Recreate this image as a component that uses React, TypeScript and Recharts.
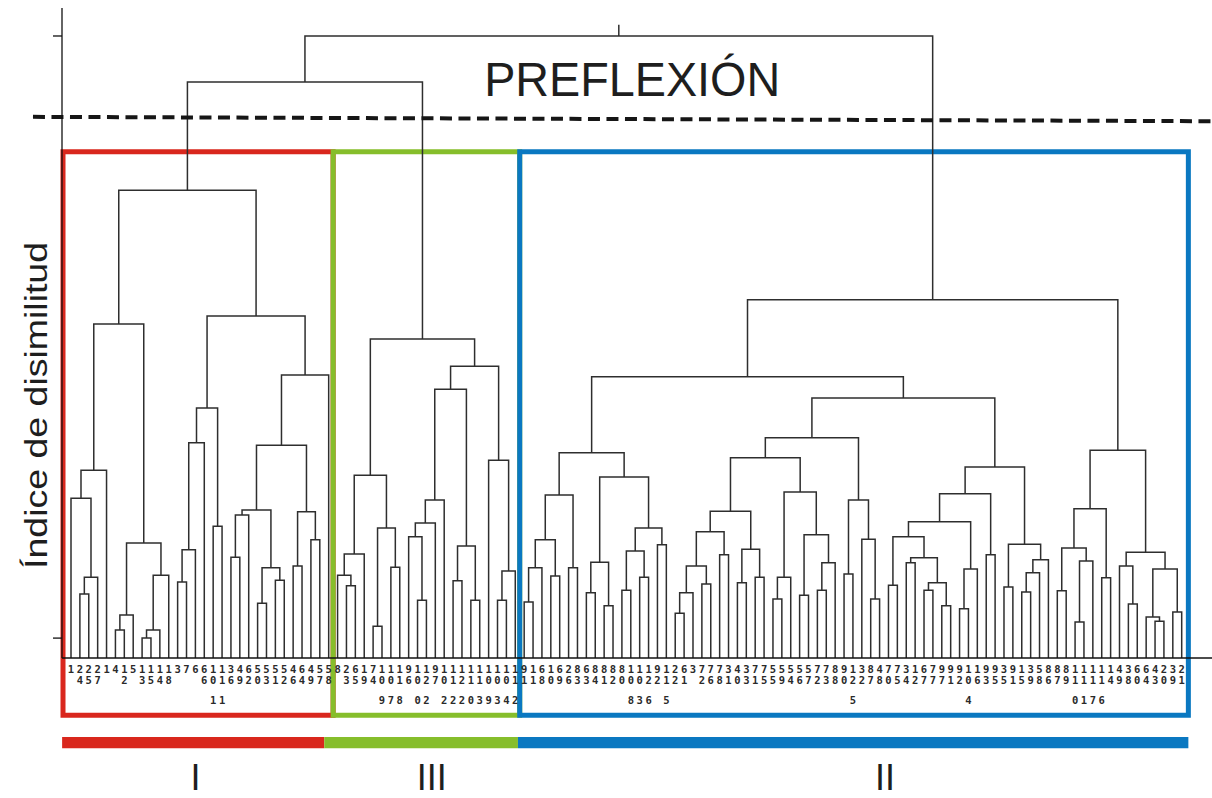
import React from 'react';
import {
  ComposedChart,
  Line,
  XAxis,
  YAxis,
  ReferenceLine,
  ReferenceArea,
  ReferenceDot,
} from 'recharts';

// ---------- DATA ----------
// Leaf (case) labels, left to right, digits read top to bottom
const leafLabels: string[] = [
  // cluster I
  '1', '24', '25', '27', '1', '4', '12', '5', '13', '15', '14', '18', '3', '7', '6', '66', '101', '111', '36', '49',
  '62', '50', '53', '51', '52', '46', '64', '49', '57', '58',
  // cluster III
  '8', '23', '65', '19', '74', '109', '107', '118', '96', '100', '122', '97', '102', '112', '122', '110', '113', '109',
  '103', '104', '112',
  // cluster II
  '91', '11', '68', '10', '69', '26', '83', '63', '84', '81', '82', '80', '108', '103', '126', '92', '115', '22', '61',
  '3', '72', '76', '78', '31', '40', '33', '71', '75', '55', '59', '54', '56', '57', '72', '73', '88', '90', '125',
  '32', '87', '48', '70', '75', '34', '12', '67', '77', '97', '91', '92', '104', '16', '93', '95', '35', '91', '15',
  '39', '58', '86', '87', '89', '110', '111', '117', '116', '14', '49', '38', '60', '64', '43', '20', '39', '21',
];

// Agglomeration steps: [node id, left child, right child, dissimilarity]
const merges: [string, string, string, number][] = [
  // cluster I
  ['m1', 'L1', 'L2', 10.3],
  ['m2', 'm1', 'L3', 13.0],
  ['m3', 'L0', 'm2', 25.7],
  ['m4', 'm3', 'L4', 30.2],
  ['m5', 'L5', 'L6', 4.5],
  ['m6', 'm5', 'L7', 6.9],
  ['m7', 'L8', 'L9', 3.2],
  ['m8', 'm7', 'L10', 4.5],
  ['m9', 'm8', 'L11', 13.3],
  ['m10', 'm6', 'm9', 18.5],
  ['m11', 'm4', 'm10', 53.7],
  ['m12', 'L12', 'L13', 12.2],
  ['m13', 'm12', 'L14', 17.4],
  ['m14', 'm13', 'L15', 34.6],
  ['m15', 'L16', 'L17', 21.2],
  ['m16', 'm14', 'm15', 40.2],
  ['m17', 'L18', 'L19', 16.2],
  ['m18', 'm17', 'L20', 23.0],
  ['m19', 'L21', 'L22', 8.8],
  ['m20', 'L23', 'L24', 12.5],
  ['m21', 'm19', 'm20', 14.5],
  ['m22', 'm18', 'm21', 23.8],
  ['m23', 'L25', 'L26', 14.8],
  ['m24', 'L27', 'L28', 19.0],
  ['m25', 'm23', 'm24', 23.5],
  ['m26', 'm22', 'm25', 34.2],
  ['m27', 'm26', 'L29', 45.5],
  ['m28', 'm16', 'm27', 55.0],
  ['m29', 'm11', 'm28', 75.2],
  // cluster III
  ['n1', 'L31', 'L32', 11.6],
  ['n2', 'L30', 'n1', 13.3],
  ['n3', 'n2', 'L33', 16.7],
  ['n4', 'L34', 'L35', 5.1],
  ['n5', 'L36', 'L37', 14.6],
  ['n6', 'n4', 'n5', 20.9],
  ['n7', 'n3', 'n6', 29.4],
  ['n8', 'L39', 'L40', 9.3],
  ['n9', 'L38', 'n8', 19.5],
  ['n10', 'n9', 'L41', 21.7],
  ['n11', 'n10', 'L42', 25.4],
  ['n12', 'L43', 'L44', 12.4],
  ['n13', 'L45', 'L46', 9.3],
  ['n14', 'n12', 'n13', 18.0],
  ['n15', 'n11', 'n14', 43.2],
  ['n16', 'L48', 'L49', 9.3],
  ['n17', 'n16', 'L50', 14.0],
  ['n18', 'L47', 'n17', 31.8],
  ['n19', 'n15', 'n18', 46.9],
  ['n20', 'n7', 'n19', 51.3],
  // I + III
  ['q1', 'm29', 'n20', 92.6],
  // cluster II
  ['p1', 'L51', 'L52', 9.0],
  ['p2', 'p1', 'L53', 14.5],
  ['p3', 'L54', 'L55', 13.2],
  ['p4', 'p2', 'p3', 19.0],
  ['p5', 'L56', 'L57', 14.5],
  ['p6', 'p4', 'p5', 26.2],
  ['p7', 'L58', 'L59', 10.5],
  ['p8', 'L60', 'L61', 8.4],
  ['p9', 'p7', 'p8', 15.4],
  ['p10', 'L62', 'L63', 10.9],
  ['p11', 'L64', 'L65', 13.0],
  ['p12', 'p10', 'p11', 17.2],
  ['p13', 'L66', 'L67', 18.2],
  ['p14', 'p12', 'p13', 20.9],
  ['p15', 'p9', 'p14', 29.1],
  ['p16', 'p6', 'p15', 33.0],
  ['p17', 'L68', 'L69', 7.2],
  ['p18', 'p17', 'L70', 10.5],
  ['p19', 'L71', 'L72', 11.9],
  ['p20', 'p18', 'p19', 14.8],
  ['p21', 'L73', 'L74', 16.6],
  ['p22', 'p20', 'p21', 20.3],
  ['p23', 'L75', 'L76', 12.1],
  ['p24', 'L77', 'L78', 13.0],
  ['p25', 'p23', 'p24', 17.5],
  ['p26', 'p22', 'p25', 23.6],
  ['p27', 'L79', 'L80', 9.5],
  ['p28', 'p27', 'L81', 13.0],
  ['p29', 'L82', 'L83', 10.1],
  ['p30', 'L84', 'L85', 10.9],
  ['p31', 'p30', 'L86', 15.3],
  ['p32', 'p29', 'p31', 19.8],
  ['p33', 'p28', 'p32', 26.7],
  ['p34', 'p26', 'p33', 32.2],
  ['p35', 'L87', 'L88', 13.5],
  ['p36', 'L90', 'L91', 9.5],
  ['p37', 'L89', 'p36', 19.1],
  ['p38', 'p35', 'p37', 25.4],
  ['p39', 'p34', 'p38', 35.4],
  ['p40', 'L92', 'L93', 11.7],
  ['p41', 'L94', 'L95', 15.3],
  ['p42', 'L96', 'L97', 10.9],
  ['p43', 'L98', 'L99', 8.4],
  ['p44', 'p42', 'p43', 12.1],
  ['p45', 'p41', 'p44', 16.1],
  ['p46', 'p40', 'p45', 19.5],
  ['p47', 'L100', 'L101', 7.9],
  ['p48', 'p47', 'L102', 14.3],
  ['p49', 'p46', 'p48', 21.9],
  ['p50', 'L103', 'L104', 16.6],
  ['p51', 'p49', 'p50', 26.4],
  ['p52', 'L105', 'L106', 11.4],
  ['p53', 'L107', 'L108', 10.6],
  ['p54', 'p53', 'L109', 13.7],
  ['p55', 'p54', 'L110', 15.8],
  ['p56', 'p52', 'p55', 18.3],
  ['p57', 'p51', 'p56', 30.7],
  ['p58', 'p39', 'p57', 41.8],
  ['p59', 'p16', 'p58', 45.2],
  ['p60', 'L111', 'L112', 10.8],
  ['p61', 'L113', 'L114', 5.8],
  ['p62', 'p61', 'L115', 15.6],
  ['p63', 'p60', 'p62', 17.7],
  ['p64', 'L116', 'L117', 12.9],
  ['p65', 'p63', 'p64', 24.0],
  ['p66', 'L119', 'L120', 8.7],
  ['p67', 'L118', 'p66', 14.8],
  ['p68', 'L122', 'L123', 5.9],
  ['p69', 'L121', 'p68', 6.6],
  ['p70', 'L124', 'L125', 7.4],
  ['p71', 'p69', 'p70', 14.3],
  ['p72', 'p67', 'p71', 17.0],
  ['p73', 'p65', 'p72', 33.4],
  ['p74', 'p59', 'p73', 57.6],
  // root
  ['root', 'q1', 'p74', 100.0],
];

// Groups cut at the inflexion line
const clusterNames = ['I', 'III', 'II'];
const clusterFirstLeaf = [0, 30, 51];
const clusterLastLeaf = [29, 50, 125];
const cutLevel = [87.0, 86.3]; // dashed cut line, left and right end
const axisTicks = [3.2, 100];

// ---------- STYLE / LAYOUT ----------
const W = 1212;
const H = 798;
const clusterColors = ['#d9271d', '#86be2b', '#0a78c1'];
const lineColor = '#2e2e2e';
const X_DOMAIN: [number, number] = [-1.013, 128.41];
const Y_DOMAIN: [number, number] = [0, 104.5];
const boxTop = 81.4;
const boxBottom = -9.2;
const barTop = -12.7;
const barBottom = -14.5;
const numeralX = [14.0, 40.6, 91.6];
const numeralY = -21.2;

// ---------- derived geometry ----------
const pos: Record<string, { x: number; y: number }> = {};
leafLabels.forEach((_, i) => {
  pos['L' + i] = { x: i, y: 0 };
});
const links = merges.map(([id, a, b, h]) => {
  const pa = pos[a];
  const pb = pos[b];
  pos[id] = { x: (pa.x + pb.x) / 2, y: h };
  return {
    id,
    data: [
      { x: pa.x, y: pa.y },
      { x: pa.x, y: h },
      { x: pb.x, y: h },
      { x: pb.x, y: pb.y },
    ],
  };
});
const rootStem = [
  { x: pos['root'].x, y: pos['root'].y },
  { x: pos['root'].x, y: pos['root'].y + 1.8 },
];

const boxLeft = clusterFirstLeaf.map((f, k) => (k === 0 ? -0.9 : (clusterLastLeaf[k - 1] + f) / 2));
const boxRight = clusterLastLeaf.map((l, k) =>
  k === clusterLastLeaf.length - 1 ? l + 0.75 : (l + clusterFirstLeaf[k + 1]) / 2
);

const rowOffsets = [15, 26, 46];

const LeafTick = (props: any) => {
  const { x, y, payload } = props;
  const label = leafLabels[payload.value] ?? '';
  return (
    <g>
      {label.split('').map((d, i) => (
        <text
          key={i}
          x={x}
          y={y + rowOffsets[i]}
          textAnchor="middle"
          fontFamily="'DejaVu Sans Mono', monospace"
          fontWeight="bold"
          fontSize={10.5}
          fill="#2a2a2a"
        >
          {d}
        </text>
      ))}
    </g>
  );
};

const textLabel =
  (text: string, opts: { size: number; anchor?: string; rotate?: boolean; length?: number; weight?: string }) =>
  (p: any) => {
    const vb = p.viewBox || {};
    const x = vb.x ?? 0;
    const y = vb.y ?? 0;
    return (
      <text
        x={x}
        y={y}
        textAnchor={opts.anchor || 'start'}
        fontFamily="'Liberation Sans', Arial, sans-serif"
        fontSize={opts.size}
        fontWeight={opts.weight || 'normal'}
        fill="#1e1e1e"
        transform={opts.rotate ? `rotate(-90 ${x} ${y})` : undefined}
        textLength={opts.length}
        lengthAdjust={opts.length ? 'spacingAndGlyphs' : undefined}
      >
        {text}
      </text>
    );
  };

export default function App() {
  const leafTicks = leafLabels.map((_, i) => i);
  return (
    <div style={{ position: 'absolute', left: 0, top: 0, width: W, height: H, background: '#fff' }}>
      <ComposedChart width={W} height={H} margin={{ top: 8, right: 0, bottom: 0, left: 0 }}>
        <XAxis
          type="number"
          dataKey="x"
          domain={X_DOMAIN}
          allowDataOverflow
          ticks={leafTicks}
          interval={0}
          tick={<LeafTick />}
          tickLine={false}
          tickSize={0}
          tickMargin={0}
          axisLine={{ stroke: '#111', strokeWidth: 1.6 }}
          height={140}
        />
        <YAxis
          type="number"
          dataKey="y"
          domain={Y_DOMAIN}
          allowDataOverflow
          ticks={axisTicks}
          tick={() => <g />}
          tickSize={9}
          tickLine={{ stroke: '#111', strokeWidth: 1.3 }}
          axisLine={{ stroke: '#111', strokeWidth: 1.3 }}
          width={62}
        />

        {links.map((l) => (
          <Line
            key={l.id}
            data={l.data}
            dataKey="y"
            type="linear"
            stroke={lineColor}
            strokeWidth={1.5}
            dot={false}
            activeDot={false}
            isAnimationActive={false}
            legendType="none"
          />
        ))}
        <Line
          data={rootStem}
          dataKey="y"
          type="linear"
          stroke={lineColor}
          strokeWidth={1.5}
          dot={false}
          activeDot={false}
          isAnimationActive={false}
          legendType="none"
        />

        {/* cut (inflexion) line */}
        <ReferenceLine
          segment={[
            { x: -4.28, y: cutLevel[0] },
            { x: 128.41, y: cutLevel[1] },
          ]}
          stroke="#161616"
          strokeWidth={4}
          strokeDasharray="12 6.5"
          ifOverflow="visible"
        />
        <ReferenceDot
          x={46.5}
          y={90.4}
          r={0}
          fill="none"
          stroke="none"
          ifOverflow="visible"
          label={textLabel('PREFLEXIÓN', { size: 48, length: 296 })}
        />
        <ReferenceDot
          x={-2.7}
          y={40.6}
          r={0}
          fill="none"
          stroke="none"
          ifOverflow="visible"
          label={textLabel('Índice de disimilitud', { size: 32, anchor: 'middle', rotate: true, length: 327 })}
        />

        {/* cluster boxes */}
        {clusterNames.map((name, k) => (
          <ReferenceArea
            key={'box' + name}
            x1={boxLeft[k]}
            x2={boxRight[k]}
            y1={boxBottom}
            y2={boxTop}
            fill="none"
            fillOpacity={0}
            stroke={clusterColors[k]}
            strokeWidth={5}
            ifOverflow="visible"
          />
        ))}
        {/* group bars */}
        {clusterNames.map((name, k) => (
          <ReferenceArea
            key={'bar' + name}
            x1={k === 0 ? -1.0 : boxLeft[k] - (k === 1 ? 1.0 : 0.2)}
            x2={k === 0 ? boxRight[k] - 1.0 : boxRight[k] - (k === 1 ? 0.2 : 0)}
            y1={barBottom}
            y2={barTop}
            fill={clusterColors[k]}
            fillOpacity={1}
            stroke="none"
            ifOverflow="visible"
          />
        ))}
        {clusterNames.map((name, k) => (
          <ReferenceDot
            key={'num' + name}
            x={numeralX[k]}
            y={numeralY}
            r={0}
            fill="none"
            stroke="none"
            ifOverflow="visible"
            label={textLabel(name, { size: 36, anchor: 'middle' })}
          />
        ))}
      </ComposedChart>
    </div>
  );
}
